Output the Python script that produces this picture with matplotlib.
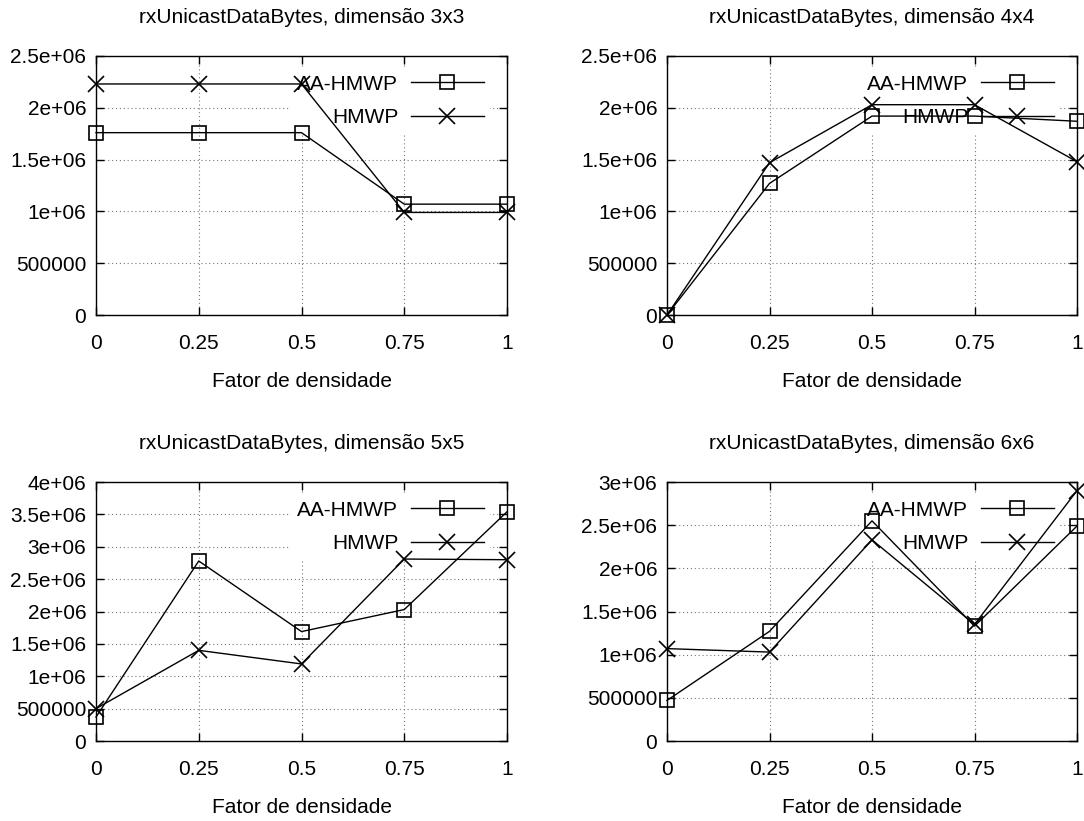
import matplotlib
matplotlib.use("Agg")
import matplotlib.pyplot as plt

plt.rcParams['font.family'] = ['Liberation Sans', 'DejaVu Sans']
plt.rcParams['font.size'] = 15

x_vals = [0, 0.25, 0.5, 0.75, 1]
x_ticklabels = ["0", "0.25", "0.5", "0.75", "1"]

titles = ["rxUnicastDataBytes, dimensão 3x3", "rxUnicastDataBytes, dimensão 4x4",
          "rxUnicastDataBytes, dimensão 5x5", "rxUnicastDataBytes, dimensão 6x6"]

aa_3x3 = [1.76e6, 1.76e6, 1.76e6, 1.07e6, 1.07e6]
hm_3x3 = [2.23e6, 2.23e6, 2.23e6, 0.99e6, 0.99e6]
aa_4x4 = [0, 1.27e6, 1.92e6, 1.92e6, 1.87e6]
hm_4x4 = [0, 1.47e6, 2.03e6, 2.03e6, 1.48e6]
aa_5x5 = [0.37e6, 2.78e6, 1.69e6, 2.03e6, 3.54e6]
hm_5x5 = [0.50e6, 1.40e6, 1.19e6, 2.81e6, 2.80e6]
aa_6x6 = [0.47e6, 1.27e6, 2.55e6, 1.33e6, 2.49e6]
hm_6x6 = [1.07e6, 1.03e6, 2.33e6, 1.35e6, 2.90e6]

yticks_3x3 = [0, 500000, 1000000, 1500000, 2000000, 2500000]
ylabels_3x3 = ["0", "500000", "1e+06", "1.5e+06", "2e+06", "2.5e+06"]
yticks_4x4 = yticks_3x3
ylabels_4x4 = ylabels_3x3
yticks_5x5 = [0, 500000, 1000000, 1500000, 2000000, 2500000, 3000000, 3500000, 4000000]
ylabels_5x5 = ["0", "500000", "1e+06", "1.5e+06", "2e+06", "2.5e+06", "3e+06", "3.5e+06", "4e+06"]
yticks_6x6 = [0, 500000, 1000000, 1500000, 2000000, 2500000, 3000000]
ylabels_6x6 = ["0", "500000", "1e+06", "1.5e+06", "2e+06", "2.5e+06", "3e+06"]

series_names = ["AA-HMWP", "HMWP"]

panels = [
    (aa_3x3, hm_3x3, yticks_3x3, ylabels_3x3),
    (aa_4x4, hm_4x4, yticks_4x4, ylabels_4x4),
    (aa_5x5, hm_5x5, yticks_5x5, ylabels_5x5),
    (aa_6x6, hm_6x6, yticks_6x6, ylabels_6x6),
]

W, H = 1084, 821
fig = plt.figure(figsize=(W / 100, H / 100), dpi=100)

# pixel boxes: left, top, right, bottom
boxes = [(96, 56, 507, 315), (667, 56, 1077, 315),
         (96, 482, 507, 741), (667, 482, 1077, 741)]

for (aa, hm, yt, yl), title, (l, t, r, b) in zip(panels, titles, boxes):
    ax = fig.add_axes([l / W, 1 - b / H, (r - l) / W, (b - t) / H])
    ax.set_axisbelow(True)
    ax.plot(x_vals, aa, color='black', lw=1.0, marker='s', markersize=10,
            markerfacecolor='none', markeredgewidth=1.2, clip_on=False,
            label=series_names[0], zorder=3)
    ax.plot(x_vals, hm, color='black', lw=1.0, marker='x', markersize=11,
            markeredgewidth=1.2, clip_on=False, label=series_names[1], zorder=3)
    ax.set_xlim(0, 1)
    ax.set_ylim(yt[0], yt[-1])
    ax.set_xticks(x_vals)
    ax.set_xticklabels(x_ticklabels)
    ax.set_yticks(yt)
    ax.set_yticklabels(yl)
    ax.grid(True, color='#777777', linestyle=(0, (1, 2.5)), lw=0.8)
    ax.tick_params(direction='in', length=6, width=1.0, top=True, right=True,
                   labelsize=15)
    ax.tick_params(axis='x', pad=14)
    ax.tick_params(axis='y', pad=7)
    for sp in ax.spines.values():
        sp.set_linewidth(1.0)
        sp.set_zorder(2.5)
    ax.set_title(title, fontsize=15, pad=24)
    ax.set_xlabel("Fator de densidade", fontsize=15, labelpad=13)
    leg = ax.legend(loc='upper right', bbox_to_anchor=(0.9586, 0.9517),
                    markerfirst=False, frameon=True,
                    fancybox=False, edgecolor='none', facecolor='white',
                    framealpha=1.0, handlelength=3.5, handletextpad=0.6,
                    labelspacing=0.69, borderpad=0.3, borderaxespad=0.0,
                    fontsize=15)
    leg.set_zorder(1.5)

fig.savefig("out.png", dpi=100)
